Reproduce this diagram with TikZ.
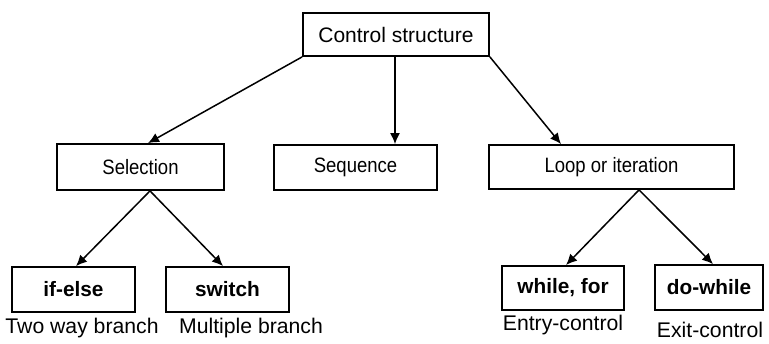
\documentclass[tikz,border=0pt]{standalone}
\usepackage{fontspec}
\setmainfont{Liberation Sans}
\newfontfamily\narrowsans[FakeStretch=0.89]{Liberation Sans}
\usetikzlibrary{calc}
\usetikzlibrary{arrows.meta}

\tikzset{
  box/.style={draw, line width=0.9pt, inner sep=0pt},
  link/.style={line width=0.75pt, arrows={-{Latex[length=5.5pt,width=5pt]}}},
  note/.style={inner sep=0pt, font=\fontsize{10.6}{12}\selectfont},
}

\begin{document}
\begin{tikzpicture}[x=0.5pt, y=-0.5pt]
\useasboundingbox (0,0) rectangle (769,343);
\def\rootfont{\fontsize{10.5}{12}\selectfont}
\def\rowfont{\narrowsans\fontsize{10.4}{12}\selectfont}
\def\leaffont{\bfseries\fontsize{10.4}{12}\selectfont}

% root
\node (ctrl) [box, minimum width=93pt, minimum height=21.5pt, font=\rootfont] at (396, 34.5) {Control structure};

% second row
\node (sel) [box, minimum width=83.5pt, minimum height=23pt, font=\rowfont] at (140.5, 167) {Selection};
\node (seq) [box, minimum width=81.5pt, minimum height=22.5pt, font=\rowfont] at (355.5, 167.5) {Sequence};
\node (loop) [box, minimum width=122.5pt, minimum height=22pt, font=\rowfont] at (611.5, 167) {Loop or iteration};

% third row
\node (ifelse) [box, minimum width=61.5pt, minimum height=22.5pt, font=\leaffont] at (73.5, 289.5) {if-else};
\node (switch) [box, minimum width=61.5pt, minimum height=22.5pt, font=\leaffont] at (227.5, 289.5) {switch};
\node (whilefor) [box, minimum width=61pt, minimum height=22pt, font=\leaffont] at (563, 288) {while, for};
\node (dowhile) [box, minimum width=54pt, minimum height=22.5pt, font=\leaffont] at (709, 287.5) {do-while};

% captions under the leaves
\node (twoway) [note] at (82, 328) {Two way branch};
\node (multi) [note] at (251, 328) {Multiple branch};
\node (entry) [note] at (563, 325) {Entry-control};
\node (exit) [note] at (710, 330) {Exit-control};

\coordinate (selfork) at ($(sel.south)+(9.5,0)$);
\coordinate (loopfork) at ($(loop.south)+(27.5,0)$);

\draw [link] (ctrl.south west) -- ($(sel.north)+(7.5,0)$);
\draw [link] ($(ctrl.south)+(-1,0)$) -- ($(ctrl.south |- seq.north)+(-1,0)$);
\draw [link] (ctrl.south east) -- ($(loop.north)+(-50.5,0)$);

\draw [link] (selfork) -- ($(ifelse.north)+(2.5,0)$);
\draw [link] (selfork) -- ($(switch.north)+(-4.5,0)$);
\draw [link] (loopfork) -- ($(whilefor.north)+(3,0)$);
\draw [link] (loopfork) -- ($(dowhile.north)+(4,0)$);
\end{tikzpicture}
\end{document}
